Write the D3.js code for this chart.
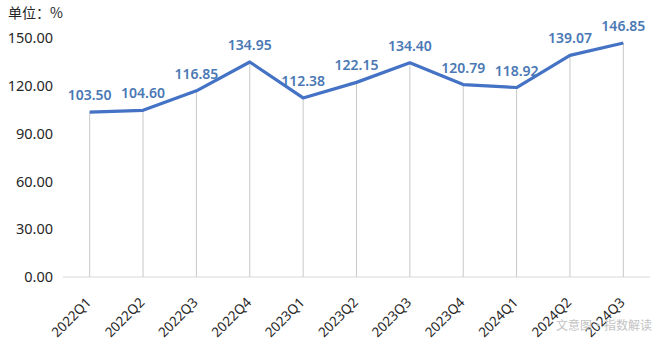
<!DOCTYPE html>
<html>
<head>
<meta charset="utf-8">
<script src="https://cdn.jsdelivr.net/npm/d3@7"></script>
<style>
  html, body { margin: 0; padding: 0; background: #fff; }
  svg { display: block; }
</style>
</head>
<body>
<svg id="chart" width="660" height="345"></svg>
<script>
// Quarterly index values (%)
const quarters = ["2022Q1","2022Q2","2022Q3","2022Q4","2023Q1","2023Q2","2023Q3","2023Q4","2024Q1","2024Q2","2024Q3"];
const values = [103.50, 104.60, 116.85, 134.95, 112.38, 122.15, 134.40, 120.79, 118.92, 139.07, 146.85];
const yTicks = [0, 30, 60, 90, 120, 150];
const unitLabel = "单位：%";
const sourceLabel = "文意图·指数解读";

const svg = d3.select("#chart");
const plot = { left: 63, right: 650, top: 38, bottom: 277 };

const x = d3.scaleBand().domain(quarters).range([plot.left, plot.right]);
const y = d3.scaleLinear().domain([0, 150]).range([plot.bottom, plot.top]);
const cx = q => x(q) + x.bandwidth() / 2;

const font = "'Noto Sans', 'Noto Sans CJK SC', sans-serif";

// unit caption
svg.append("text").attr("x", 8).attr("y", 18)
  .attr("font-family", "'Noto Sans CJK SC', sans-serif").attr("font-size", 14)
  .attr("fill", "#262626").text(unitLabel);

// y axis labels (no axis line)
const yAxis = d3.axisLeft(y).tickValues(yTicks).tickFormat(d3.format(".2f")).tickSize(0).tickPadding(10);
const yg = svg.append("g").attr("transform", `translate(${plot.left},0)`).call(yAxis);
yg.select(".domain").remove();
yg.selectAll("text").attr("font-family", font).attr("font-size", 14.5).attr("fill", "#262626");

// baseline
svg.append("line").attr("x1", plot.left).attr("x2", plot.right).attr("y1", y(0)).attr("y2", y(0))
  .attr("stroke", "#d9d9d9").attr("stroke-width", 1);

// x axis labels
const xAxis = d3.axisBottom(x).tickSize(0).tickPadding(0);
const xg = svg.append("g").attr("transform", `translate(0,${y(0)})`).call(xAxis);
xg.select(".domain").remove();
xg.selectAll("text")
  .attr("font-family", font).attr("font-size", 13.5).attr("fill", "#262626")
  .attr("text-anchor", "end")
  .attr("transform", "translate(-1,23) rotate(-45)")
  .attr("dy", "0.35em");

// drop lines
const data = quarters.map((q, i) => ({ q, v: values[i] }));
svg.append("g").selectAll("line").data(data).join("line")
  .attr("x1", d => cx(d.q)).attr("x2", d => cx(d.q))
  .attr("y1", d => y(d.v)).attr("y2", y(0))
  .attr("stroke", "#c8c8c8").attr("stroke-width", 1);

// series line
const line = d3.line().x(d => cx(d.q)).y(d => y(d.v));
svg.append("path").datum(data).attr("d", line)
  .attr("fill", "none").attr("stroke", "#4472c4").attr("stroke-width", 3.2)
  .attr("stroke-linejoin", "round");

// value labels
svg.append("g").selectAll("text").data(data).join("text")
  .attr("x", d => cx(d.q)).attr("y", d => y(d.v) - 12)
  .attr("text-anchor", "middle")
  .attr("font-family", font).attr("font-size", 14).attr("font-weight", 600)
  .attr("fill", "#4a78b4")
  .text(d => d.v.toFixed(2));

// source mark
svg.append("text").attr("x", 652).attr("y", 330).attr("text-anchor", "end")
  .attr("font-family", "'Noto Sans CJK SC', sans-serif").attr("font-size", 12)
  .attr("fill", "#bdbdbd").attr("opacity", 0.9).text(sourceLabel);
</script>
</body>
</html>
